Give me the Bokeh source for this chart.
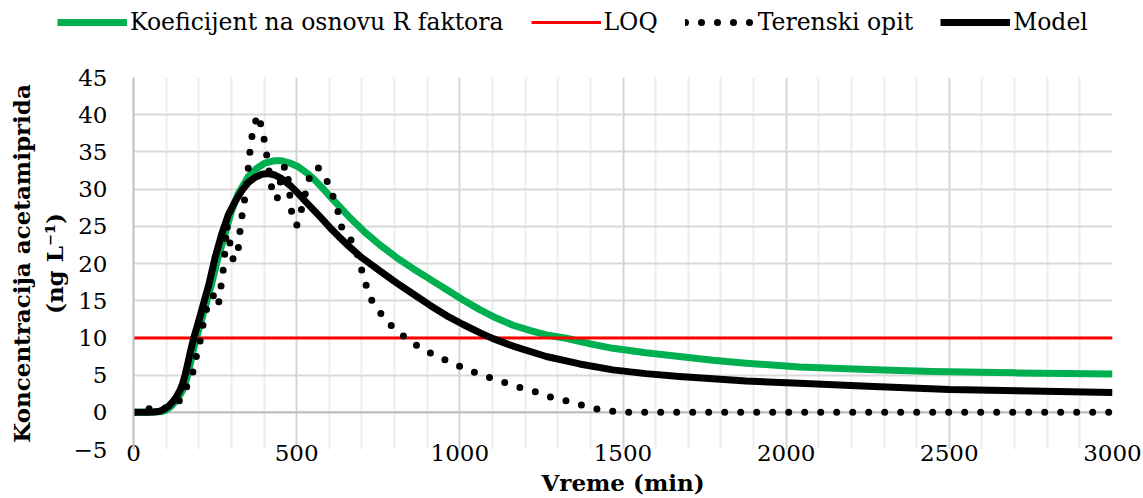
from bokeh.plotting import figure
from bokeh.models import Range1d, FixedTicker, Legend, LegendItem, Span
from bokeh.embed import file_html
from bokeh.resources import INLINE

# ---------------- data ----------------
series_names = ["Koeficijent na osnovu R faktora", "LOQ", "Terenski opit", "Model"]

coef_x = [0, 50, 70, 90, 100, 115, 130, 141, 151, 159, 166, 174, 181, 192, 202, 212, 225, 238, 258, 281,
          300, 320, 352, 378, 403, 430, 454, 480, 505, 530, 556, 580, 607, 658, 709, 755, 806,
          857, 908, 959, 1010, 1061, 1110, 1163, 1214, 1265, 1326, 1400, 1469, 1570, 1673, 1775, 1877, 2040,
          2250, 2449, 2700, 3000]
coef_y = [0, 0, 0.03, 0.15, 0.3, 0.8, 1.5, 2.2, 3.0, 3.9, 5.0, 6.5, 7.9, 9.9, 11.4, 12.9, 15.0, 17.0, 20.6, 24.0,
          27.0, 29.3, 31.7, 32.8, 33.5, 33.8, 33.8, 33.5, 33.0, 32.2, 31.2, 30.1, 28.8, 26.4, 24.2, 22.5, 20.8,
          19.3, 17.9, 16.5, 15.1, 13.8, 12.7, 11.7, 11.0, 10.4, 9.95, 9.2, 8.6, 8.0, 7.5, 7.0, 6.6, 6.1,
          5.75, 5.5, 5.3, 5.15]

loq_x = [0, 3000]
loq_y = [10, 10]

field_x = [0, 50, 100, 143, 165, 184, 194, 206, 214, 230, 248, 260, 267, 274, 280, 286, 296, 306, 320, 329,
           337, 345, 350, 354, 360, 367, 382, 395, 404, 411, 420, 427, 440, 449, 457, 469, 475, 480, 485, 500,
           515, 530, 539, 564, 592, 610, 626, 636, 663, 684, 697, 711, 728, 754, 786, 826, 864, 908, 952, 999,
           1044, 1090, 1138, 1186, 1235, 1281, 1329, 1378, 1425, 1474, 1520, 3000]
field_y = [0, 0.5, 0.6, 1.6, 3.6, 5.6, 7.8, 9.9, 12.0, 15.0, 15.8, 14.4, 16.6, 18.8, 21.5, 25.2, 22.6, 20.4, 21.5, 25.5,
           27.6, 30.0, 31.9, 34.0, 36.2, 38.3, 40.0, 37.9, 35.8, 33.7, 31.0, 29.4, 28.6, 30.7, 32.8, 33.1, 31.0, 28.8, 26.7, 25.1,
           27.3, 30.0, 31.5, 33.0, 31.2, 29.2, 27.1, 25.0, 23.5, 21.5, 19.5, 17.3, 15.2, 13.5, 11.8, 10.3, 9.1, 8.0, 7.1, 6.2,
           5.4, 4.7, 4.0, 3.3, 2.7, 2.0, 1.5, 0.9, 0.4, 0.1, 0, 0]

model_x = [0, 40, 61, 80, 92, 107, 122, 133, 143, 151, 158, 166, 173, 184, 194, 204, 217, 230, 250, 270,
           291, 311, 332, 352, 373, 393, 413, 433, 454, 480, 505, 530, 556, 580, 607, 632, 658, 699, 755, 806,
           857, 908, 959, 1010, 1061, 1102, 1163, 1265, 1367, 1469, 1570, 1673, 1877, 2040, 2250, 2500, 2750, 3000]
model_y = [0, 0, 0.05, 0.15, 0.36, 0.8, 1.5, 2.2, 3.0, 3.9, 5.0, 6.5, 7.9, 9.9, 11.4, 12.9, 15.0, 17.0, 20.8, 23.9,
           26.6, 28.3, 29.8, 30.9, 31.6, 32.0, 32.1, 31.9, 31.4, 30.5, 29.4, 28.2, 27.0, 25.9, 24.6, 23.5, 22.4, 20.8, 19.0, 17.4,
           15.9, 14.4, 13.0, 11.8, 10.7, 9.9, 8.9, 7.5, 6.5, 5.7, 5.2, 4.8, 4.2, 3.9, 3.5, 3.05, 2.85, 2.65]

x_ticks = [0, 500, 1000, 1500, 2000, 2500, 3000]
x_minor = [v for v in range(0, 3001, 100) if v % 500 != 0]
y_ticks = [-5, 0, 5, 10, 15, 20, 25, 30, 35, 40, 45]

x_title = "Vreme (min)"
y_title = "Koncentracija acetamiprida\n(ng L\u207b\u00b9)"

series_xy = [(coef_x, coef_y), (loq_x, loq_y), (field_x, field_y), (model_x, model_y)]

# ---------------- styles ----------------
FONT = "DejaVu Serif"
styles = [dict(line_color="#00b050", line_width=7, line_join="round"),
          dict(line_color="#ff0000", line_width=3),
          dict(line_color="black", line_width=7, line_dash="0 16", line_cap="round", line_join="round"),
          dict(line_color="black", line_width=7, line_join="round")]

# ---------------- legend strip (separate root, so the legend is not clipped) ----------------
LEG_H = 40
leg = figure(width=1143, height=LEG_H, output_backend="svg", toolbar_location=None,
             x_axis_location=None, y_axis_location=None,
             x_range=Range1d(-20000, -10000), y_range=Range1d(-20000, -10000),
             min_border_left=0, min_border_right=0, min_border_top=0, min_border_bottom=0)
leg.outline_line_color = None
leg.grid.visible = False
leg_renderers = [leg.line(xs, ys, **st) for (xs, ys), st in zip(series_xy, styles)]
legend = Legend(items=[LegendItem(label=n, renderers=[r]) for n, r in zip(series_names, leg_renderers)],
                orientation="horizontal", location=(57, 4),
                glyph_width=70, glyph_height=28, label_height=28, label_standoff=3,
                spacing=27, padding=0, margin=0,
                border_line_color=None, background_fill_alpha=0,
                label_text_font=FONT, label_text_font_size="23.5px", label_text_color="black")
leg.add_layout(legend)

# ---------------- main figure ----------------
p = figure(width=1143, height=498 - LEG_H, output_backend="svg", toolbar_location=None,
           x_range=Range1d(0, 3000), y_range=Range1d(-5, 45),
           min_border_left=133, min_border_right=31, min_border_top=77 - LEG_H, min_border_bottom=46)
p.outline_line_color = None
p.background_fill_color = "white"
p.border_fill_color = "white"

p.xaxis.ticker = FixedTicker(ticks=x_ticks, minor_ticks=x_minor)
p.yaxis.ticker = FixedTicker(ticks=y_ticks)

p.xgrid.grid_line_color = "#d4d4d4"
p.xgrid.grid_line_width = 2
p.xgrid.minor_grid_line_color = "#ededed"
p.xgrid.minor_grid_line_width = 2
p.ygrid.grid_line_color = "#d9d9d9"
p.ygrid.grid_line_width = 2

for ax in (p.xaxis[0], p.yaxis[0]):
    ax.major_label_text_font = FONT
    ax.major_label_text_font_size = "23px"
    ax.major_label_text_color = "black"
    ax.axis_label_text_font = FONT
    ax.axis_label_text_font_size = "23px"
    ax.axis_label_text_font_style = "bold"
    ax.axis_label_text_color = "black"
    ax.major_tick_line_color = None
    ax.minor_tick_line_color = None
    ax.major_tick_out = 0
    ax.minor_tick_out = 0

p.xaxis.axis_line_color = None
p.xaxis.axis_label = x_title
p.xaxis.major_label_standoff = -5
p.xaxis.axis_label_standoff = 5

p.yaxis.axis_line_color = "#bfbfbf"
p.yaxis.axis_line_width = 2
p.yaxis.axis_label = y_title
p.yaxis.major_label_standoff = 26
p.yaxis.axis_label_standoff = 3

zero_line = Span(location=0, dimension="width", line_color="#bfbfbf", line_width=2, level="underlay")
p.add_layout(zero_line)

for (xs, ys), st in zip(series_xy, styles):
    p.line(xs, ys, **st)

open("out.html", "w").write(file_html([leg, p], INLINE))
